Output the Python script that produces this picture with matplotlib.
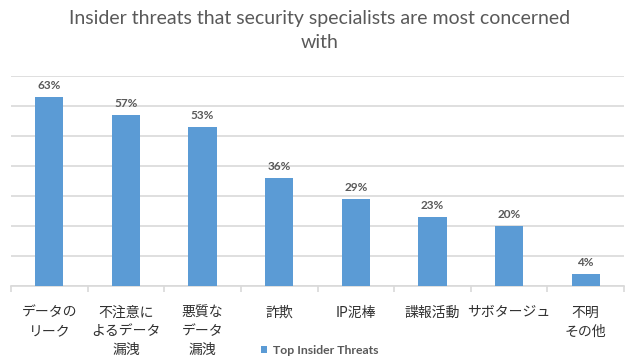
import matplotlib.pyplot as plt
import numpy as np

# data
categories = ["データの\nリーク", "不注意に\nよるデータ\n漏洩", "悪質な\nデータ\n漏洩", "詐欺",
              "IP泥棒", "諜報活動", "サボタージュ", "不明\nその他"]
values = [63, 57, 53, 36, 29, 23, 20, 4]
series_name = "Top Insider Threats"
title = "Insider threats that security specialists are most concerned\nwith"

bar_color = "#5B9BD5"
grid_color = "#D9D9D9"
text_color = "#595959"

fig = plt.figure(figsize=(6.4, 3.64), dpi=100)
ax = fig.add_axes([11 / 640, 1 - 286 / 364, 613 / 640, 210 / 364])

x = np.arange(len(values))
bars = ax.bar(x, values, width=0.37, color=bar_color, zorder=3)

ax.set_xlim(-0.5, len(values) - 0.5)
ax.set_ylim(0, 70)
ax.set_yticks(np.arange(0, 71, 10))
ax.yaxis.grid(True, color=grid_color, linewidth=1.2)
ax.set_axisbelow(True)
ax.tick_params(axis="y", left=False, labelleft=False)

for s in ["top", "right", "left"]:
    ax.spines[s].set_visible(False)
ax.spines["bottom"].set_color(grid_color)
ax.spines["bottom"].set_linewidth(1.2)

# category labels at centres, tick marks at boundaries
ax.set_xticks(x)
ax.set_xticklabels(categories, fontsize=10, color="#303030", linespacing=1.45,
                   family=["Noto Sans CJK JP", "DejaVu Sans"])
ax.tick_params(axis="x", which="major", length=0, pad=14)
ax.set_xticks(np.arange(-0.5, len(values), 1.0), minor=True)
ax.tick_params(axis="x", which="minor", length=4, color=grid_color, width=1.2)

# value labels
for xi, v in zip(x, values):
    ax.annotate(f"{v}%", (xi, v), xytext=(0, 4), textcoords="offset points",
                ha="center", va="bottom", fontsize=8.5, fontweight="bold",
                color=text_color, family=["Lato", "DejaVu Sans"])

fig.text(0.5, 1 - 10 / 364, title, ha="center", va="top", fontsize=14,
         color=text_color, linespacing=1.5, family=["Lato", "DejaVu Sans"])

# legend
leg = fig.legend([bars], [series_name], loc="center", bbox_to_anchor=(0.5, 1 - 350 / 364),
                 frameon=False, handlelength=0.5, handleheight=0.5, handletextpad=0.5,
                 prop={"family": "Lato", "weight": "bold", "size": 8.8})
for t in leg.get_texts():
    t.set_color(text_color)

fig.savefig("out.png", dpi=100)
